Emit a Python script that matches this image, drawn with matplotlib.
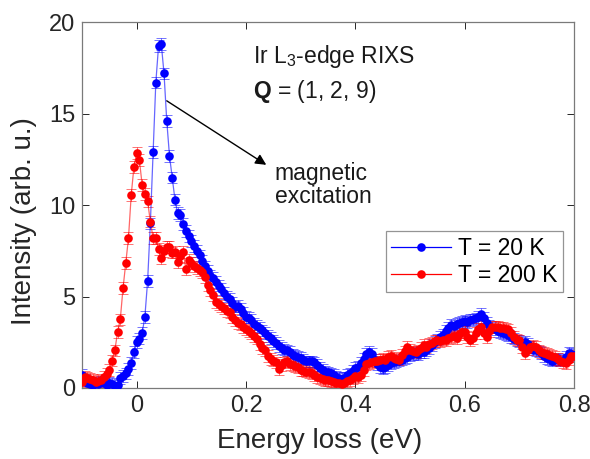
import numpy as np
import matplotlib
matplotlib.use("Agg")
import matplotlib.pyplot as plt

plt.rcParams['font.family'] = ['Liberation Sans', 'DejaVu Sans']
plt.rcParams['mathtext.fontset'] = 'custom'
plt.rcParams['mathtext.rm'] = 'Liberation Sans'
plt.rcParams['mathtext.bf'] = 'Liberation Sans:bold'

# Energy grid (eV), -0.100 ... 0.800 in 0.005 steps
energy = np.round(np.arange(-0.100, 0.8001, 0.005), 3)

# T = 20 K intensity (arb. u.), rows of 10 points (0.05 eV each)
blue_20K = [
    0.70, 0.45, 0.25, 0.20, 0.15, 0.30, 0.20, 0.35, 0.25, 0.15,   # -0.100
    0.30, 0.20, 0.10, 0.15, 0.55, 0.65, 0.80, 1.05, 1.35, 1.95,   # -0.050
    2.50, 2.70, 3.00, 3.90, 5.85, 9.00, 12.90, 16.70, 18.70, 18.80,  # 0.000
    17.20, 14.60, 12.70, 11.50, 10.30, 9.55, 9.45, 8.95, 8.60, 8.30,  # 0.050
    8.05, 7.75, 7.50, 7.25, 6.95, 6.65, 6.40, 6.15, 6.00, 5.80,   # 0.100
    5.60, 5.40, 5.20, 5.00, 4.85, 4.65, 4.45, 4.50, 4.30, 4.10,   # 0.150
    3.90, 3.85, 3.70, 3.50, 3.40, 3.30, 3.15, 3.00, 2.85, 2.75,   # 0.200
    2.55, 2.45, 2.30, 2.20, 2.10, 2.05, 1.95, 1.80, 1.75, 1.70,   # 0.250
    1.65, 1.55, 1.45, 1.45, 1.45, 1.40, 1.25, 1.10, 1.00, 0.90,   # 0.300
    0.85, 0.80, 0.70, 0.60, 0.55, 0.50, 0.55, 0.70, 0.80, 0.95,   # 0.350
    1.10, 1.15, 1.35, 1.60, 1.85, 1.95, 1.85, 1.55, 1.30, 1.15,   # 0.400
    1.10, 1.15, 1.25, 1.35, 1.40, 1.45, 1.50, 1.55, 1.65, 1.70,   # 0.450
    1.80, 1.85, 1.90, 1.85, 1.95, 1.95, 2.05, 2.20, 2.35, 2.50,   # 0.500
    2.65, 2.80, 2.90, 3.10, 3.30, 3.45, 3.40, 3.50, 3.55, 3.60,   # 0.550
    3.65, 3.60, 3.70, 3.75, 3.80, 3.90, 4.05, 3.85, 3.55, 3.40,   # 0.600
    3.30, 3.20, 3.10, 3.05, 3.00, 2.95, 2.90, 2.80, 2.70, 2.60,   # 0.650
    2.55, 2.45, 2.50, 2.40, 2.25, 2.10, 2.05, 2.00, 1.90, 1.75,   # 0.700
    1.65, 1.60, 1.50, 1.55, 1.60, 1.50, 1.55, 1.70, 1.90, 1.85,   # 0.750
    1.80,                                                         # 0.800
]

# T = 200 K intensity (arb. u.)
red_200K = [
    0.35, 0.60, 0.55, 0.50, 0.45, 0.35, 0.40, 0.45, 0.60, 0.75,   # -0.100
    1.00, 1.50, 2.05, 3.05, 3.75, 5.45, 6.85, 8.20, 10.55, 12.10,  # -0.050
    12.85, 12.45, 11.10, 10.60, 10.20, 9.10, 8.20, 8.20, 7.60, 7.10,  # 0.000
    7.50, 7.70, 7.70, 7.40, 7.45, 6.90, 7.20, 7.45, 6.50, 7.00,   # 0.050
    6.85, 6.65, 6.55, 6.45, 6.35, 6.05, 5.65, 5.35, 5.10, 4.70,   # 0.100
    4.60, 4.50, 4.35, 4.20, 4.15, 3.90, 3.70, 3.55, 3.50, 3.35,   # 0.150
    3.20, 3.10, 3.00, 2.85, 2.70, 2.40, 2.20, 2.05, 1.75, 1.60,   # 0.200
    1.50, 1.40, 1.05, 1.25, 1.40, 1.45, 1.30, 1.25, 1.20, 1.15,   # 0.250
    1.00, 0.95, 0.90, 0.85, 0.80, 0.70, 0.60, 0.55, 0.50, 0.45,   # 0.300
    0.45, 0.40, 0.35, 0.30, 0.25, 0.20, 0.30, 0.40, 0.45, 0.55,   # 0.350
    0.65, 0.60, 0.70, 1.00, 1.30, 1.35, 1.40, 1.45, 1.45, 1.55,   # 0.400
    1.60, 1.55, 1.70, 1.75, 1.65, 1.60, 1.55, 1.80, 2.00, 2.25,   # 0.450
    2.10, 2.00, 1.95, 2.05, 2.20, 2.35, 2.25, 2.40, 2.45, 2.55,   # 0.500
    2.60, 2.55, 2.65, 2.60, 2.75, 2.80, 2.85, 2.75, 2.95, 3.05,   # 0.550
    3.05, 2.80, 2.60, 2.75, 3.00, 3.25, 3.35, 3.00, 2.80, 3.10,   # 0.600
    3.35, 3.35, 3.35, 3.30, 3.30, 3.25, 3.20, 3.00, 2.80, 2.65,   # 0.650
    2.60, 2.25, 1.90, 2.10, 2.25, 2.30, 2.25, 2.05, 1.95, 1.90,   # 0.700
    1.85, 1.80, 1.75, 1.70, 1.60, 1.50, 1.40, 1.35, 1.55, 1.75,   # 0.750
    1.75,                                                         # 0.800
]

err_20K = 0.32
err_200K = 0.32

series_labels = ['T = 20 K', 'T = 200 K']
x_ticks = [0, 0.2, 0.4, 0.6, 0.8]
y_ticks = [0, 5, 10, 15, 20]

fig = plt.figure(figsize=(5.9, 4.59), dpi=100)
ax = fig.add_axes([0.139, 0.1547, 0.834, 0.797])

axis_col = '#262626'
MS = 6.2
for vals, err, col, lab in [(blue_20K, err_20K, '#0000ff', series_labels[0]),
                            (red_200K, err_200K, '#ff0000', series_labels[1])]:
    ax.errorbar(energy, vals, yerr=err, fmt='none', ecolor=col, elinewidth=0.7,
                capsize=3.5, capthick=0.7, alpha=0.55, zorder=2)
    ax.plot(energy, vals, '-', color=col, lw=0.9, alpha=0.6, zorder=3)
    ax.plot(energy, vals, 'o', color=col, ms=MS, mec='none', zorder=4)
    ax.plot([], [], '-o', color=col, lw=0.9, ms=MS, mec='none', label=lab)

ax.set_xlim(-0.1, 0.8)
ax.set_ylim(0, 20)
ax.set_xticks(x_ticks)
ax.set_xticklabels(['0', '0.2', '0.4', '0.6', '0.8'])
ax.set_yticks(y_ticks)
ax.tick_params(direction='in', top=True, right=True, length=5, width=0.7,
               colors=axis_col, labelsize=17, pad=5)
for sp in ax.spines.values():
    sp.set_color('#7a7a7a')
    sp.set_linewidth(0.9)

ax.set_xlabel('Energy loss (eV)', fontsize=20, color=axis_col)
ax.set_ylabel('Intensity (arb. u.)', fontsize=20, color=axis_col)
ax.xaxis.set_label_coords(0.482, -0.108)
ax.yaxis.set_label_coords(-0.092, 0.456)

TXT = 16.5
ax.text(0.347, 0.905, 'Ir L$_3$-edge RIXS', transform=ax.transAxes,
        fontsize=TXT, color='#1a1a1a', va='center', ha='left')
ax.text(0.347, 0.81, r'$\mathbf{Q}$ = (1, 2, 9)', transform=ax.transAxes,
        fontsize=TXT, color='#1a1a1a', va='center', ha='left')
ax.annotate('', xy=(0.237, 12.2), xytext=(0.055, 15.7),
            arrowprops=dict(arrowstyle='-|>', color='black', lw=1.0,
                            mutation_scale=16, shrinkA=0, shrinkB=0))
ax.text(0.392, 0.556, 'magnetic\nexcitation', transform=ax.transAxes,
        fontsize=TXT, color='#1a1a1a', va='center', ha='left', linespacing=1.0)

leg = ax.legend(loc='upper left', bbox_to_anchor=(0.617, 0.428), fontsize=TXT,
                frameon=True, fancybox=False, edgecolor='#7a7a7a',
                handlelength=2.6, handletextpad=0.3, borderpad=0.25,
                labelspacing=0.15, borderaxespad=0)
leg.get_frame().set_linewidth(0.9)

fig.savefig('out.png', dpi=100)
